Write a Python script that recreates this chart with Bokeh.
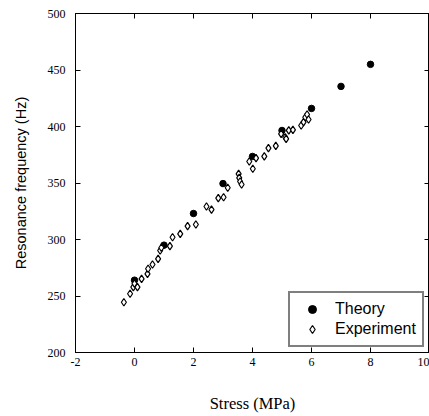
from bokeh.plotting import figure
from bokeh.models import LinearAxis, Range1d, Legend, LegendItem, FixedTicker, CustomJSTickFormatter
from bokeh.embed import file_html
from bokeh.resources import INLINE

# Theory (filled circles)
theory_x = [0, 1, 2, 3, 4, 5, 6, 7, 8]
theory_y = [264, 295, 323, 349.5, 373.5, 396.5, 416, 435.5, 455]

# Experiment (open diamonds)
exp_x = [-0.36, -0.15, -0.04, 0.0, 0.10, 0.24, 0.44, 0.46, 0.61, 0.80, 0.87, 0.91,
         1.20, 1.29, 1.55, 1.80, 2.08, 2.44, 2.61, 2.84, 3.02, 3.16, 3.53, 3.55,
         3.58, 3.63, 3.89, 4.01, 4.12, 4.40, 4.54, 4.79, 4.97, 5.11, 5.14, 5.23,
         5.37, 5.65, 5.73, 5.79, 5.85, 5.90]
exp_y = [244.5, 252, 257.8, 261, 257.8, 265.2, 269.6, 274.1, 277.9, 282.9, 290.3, 292.7,
         294.1, 302, 305, 311.8, 313.3, 329.2, 326.5, 336.6, 337.4, 345.8, 358.1, 354.6,
         351.3, 348.7, 369, 362.6, 372, 373.5, 380.8, 382.9, 393.5, 390.5, 389.1, 396.5,
         397, 400.9, 403.8, 408.2, 410.6, 406.2]

x_ticks = [-2, 0, 2, 4, 6, 8, 10]
y_ticks = [200, 250, 300, 350, 400, 450, 500]

p = figure(width=429, height=416, output_backend="svg", toolbar_location=None,
           x_range=Range1d(-2, 10), y_range=Range1d(200, 500),
           min_border_left=75, min_border_right=0, min_border_top=13, min_border_bottom=64,
           x_axis_label="Stress (MPa)", y_axis_label="Resonance frequency (Hz)")
p.grid.visible = False
p.outline_line_color = "black"
p.outline_line_width = 1
p.background_fill_color = "white"
p.border_fill_color = "white"

for ax, ticks in ((p.xaxis[0], x_ticks), (p.yaxis[0], y_ticks)):
    ax.ticker = FixedTicker(ticks=ticks)
    ax.formatter = CustomJSTickFormatter(code="return tick.toString()")
    ax.major_tick_in = 5
    ax.major_tick_out = 0
    ax.minor_tick_in = 0
    ax.minor_tick_out = 0
    ax.axis_line_color = "black"
    ax.major_tick_line_color = "black"
    ax.major_label_text_font = "Liberation Serif"
    ax.major_label_text_font_size = "12px"
    ax.major_label_text_color = "black"
    ax.axis_label_text_color = "black"

p.xaxis.major_label_standoff = 5
p.yaxis.major_label_standoff = 10
p.xaxis.axis_label_text_font = "Liberation Serif"
p.xaxis.axis_label_text_font_size = "16.5px"
p.xaxis.axis_label_text_font_style = "normal"
p.xaxis.axis_label_standoff = 25
p.yaxis.axis_label_text_font = "Liberation Sans"
p.yaxis.axis_label_text_font_size = "14.5px"
p.yaxis.axis_label_text_font_style = "normal"
p.yaxis.axis_label_standoff = 16

# mirror axes (ticks only)
for side, ticks in (("right", y_ticks), ("above", x_ticks)):
    a = LinearAxis(ticker=FixedTicker(ticks=ticks),
                   formatter=CustomJSTickFormatter(code="return ''"),
                   major_label_text_font_size="0px", major_label_standoff=0,
                   major_tick_in=5, major_tick_out=0, minor_tick_in=0, minor_tick_out=0,
                   axis_line_color="black", major_tick_line_color="black")
    p.add_layout(a, side)

r_theory = p.scatter(theory_x, theory_y, marker="circle", size=6.5,
                     fill_color="black", line_color="black")
r_exp = p.scatter(exp_x, exp_y, marker="diamond", size=7.5,
                  fill_color="white", line_color="black", line_width=1.2)

legend = Legend(items=[LegendItem(label="Theory", renderers=[r_theory]),
                       LegendItem(label="Experiment", renderers=[r_exp])],
                location=(213, 5), padding=6, spacing=0, margin=0,
                label_height=20, glyph_height=20, glyph_width=32, label_standoff=7,
                label_text_font="Liberation Sans", label_text_font_size="16px",
                label_text_color="black",
                border_line_color="black", border_line_width=2,
                background_fill_color="white", background_fill_alpha=1)
p.add_layout(legend)

open("out.html", "w").write(file_html(p, INLINE))
